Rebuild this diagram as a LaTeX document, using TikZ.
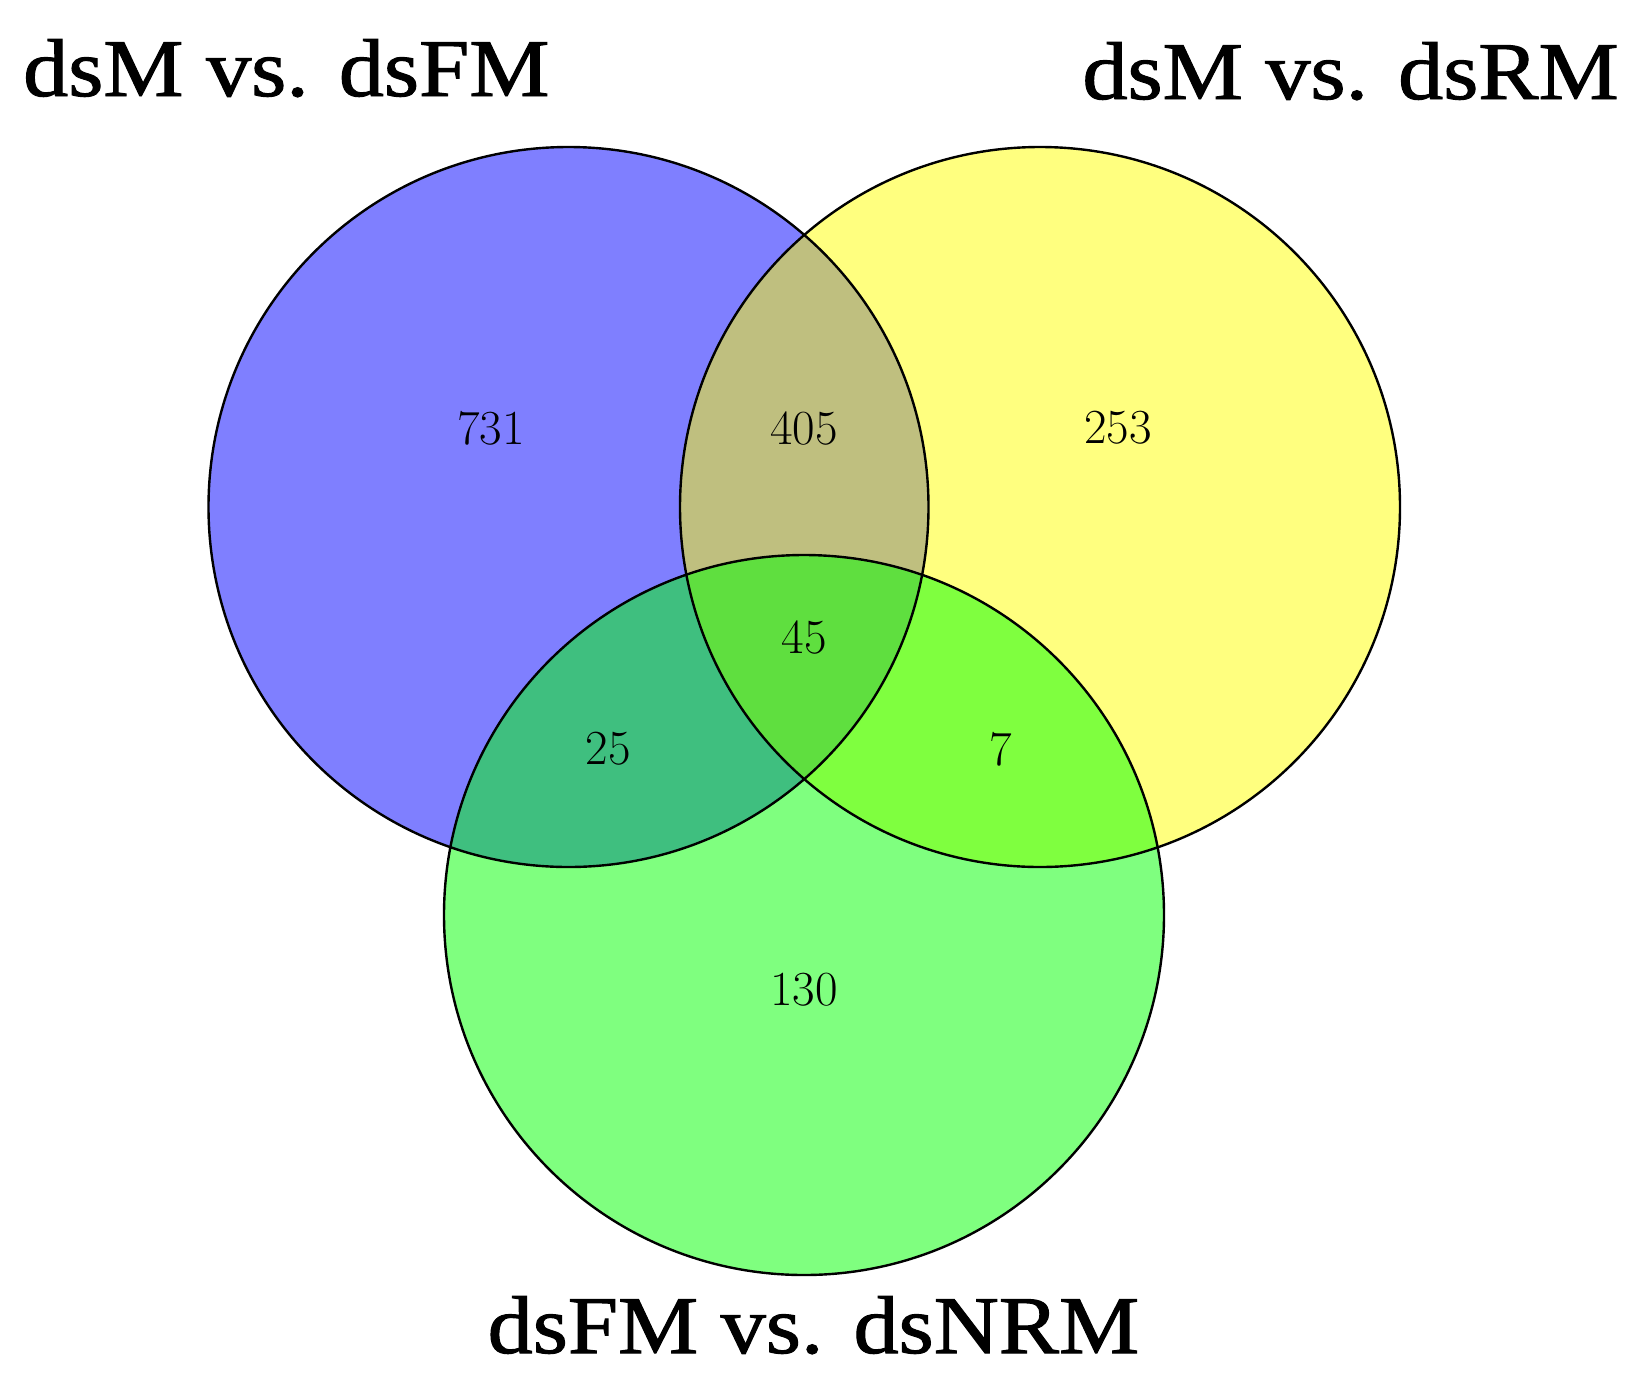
\documentclass[tikz,border=0pt]{standalone}
\usepackage{fontspec}
\usepackage{graphicx}
\newfontfamily\titlefont[FakeBold=1.2]{Liberation Serif}
\definecolor{cblue}{RGB}{0,0,255}
\definecolor{cyellow}{RGB}{255,255,0}
\definecolor{cgreen}{RGB}{0,255,0}
\tikzset{
  setfill/.style={circle, minimum size=720pt, inner sep=0pt, fill opacity=0.5},
  ring/.style={draw=black, line width=2.4pt},
  count/.style={inner sep=0pt, font=\fontsize{49}{49}\selectfont},
  title/.style={inner sep=0pt, font=\titlefont\fontsize{82}{82}\selectfont}
}
\newcommand{\wideT}[1]{\scalebox{1.1}[1]{#1}}
\begin{document}
\begin{tikzpicture}[x=1pt,y=-1pt]
\useasboundingbox (0,0) rectangle (1638,1385);
\fill[white] (0,0) rectangle (1638,1385);
% fills
\node[setfill, fill=cblue] (A) at (568.5,507) {};
\node[setfill, fill=cyellow] (B) at (1040,507) {};
\node[setfill, fill=cgreen] (C) at (804,915) {};
% outlines
\draw[ring] (A.center) circle[radius=360];
\draw[ring] (B.center) circle[radius=360];
\draw[ring] (C.center) circle[radius=360];
% counts
\node[count] (n731) at (491,428) {731};
\node[count] (n405) at (804,428) {405};
\node[count] (n253) at (1118,428) {253};
\node[count] (n45) at (804,637) {45};
\node[count] (n25) at (608,749) {25};
\node[count] (n7) at (1001,749) {7};
\node[count] (n130) at (804,990) {130};
% titles
\node[title, anchor=base west] (tA) at (23,96) {\wideT{dsM vs. dsFM}};
\node[title, anchor=base east] (tB) at (1619,99) {\wideT{dsM vs. dsRM}};
\node[title, anchor=base] (tC) at (813.5,1353) {\wideT{dsFM vs. dsNRM}};
\end{tikzpicture}
\end{document}
